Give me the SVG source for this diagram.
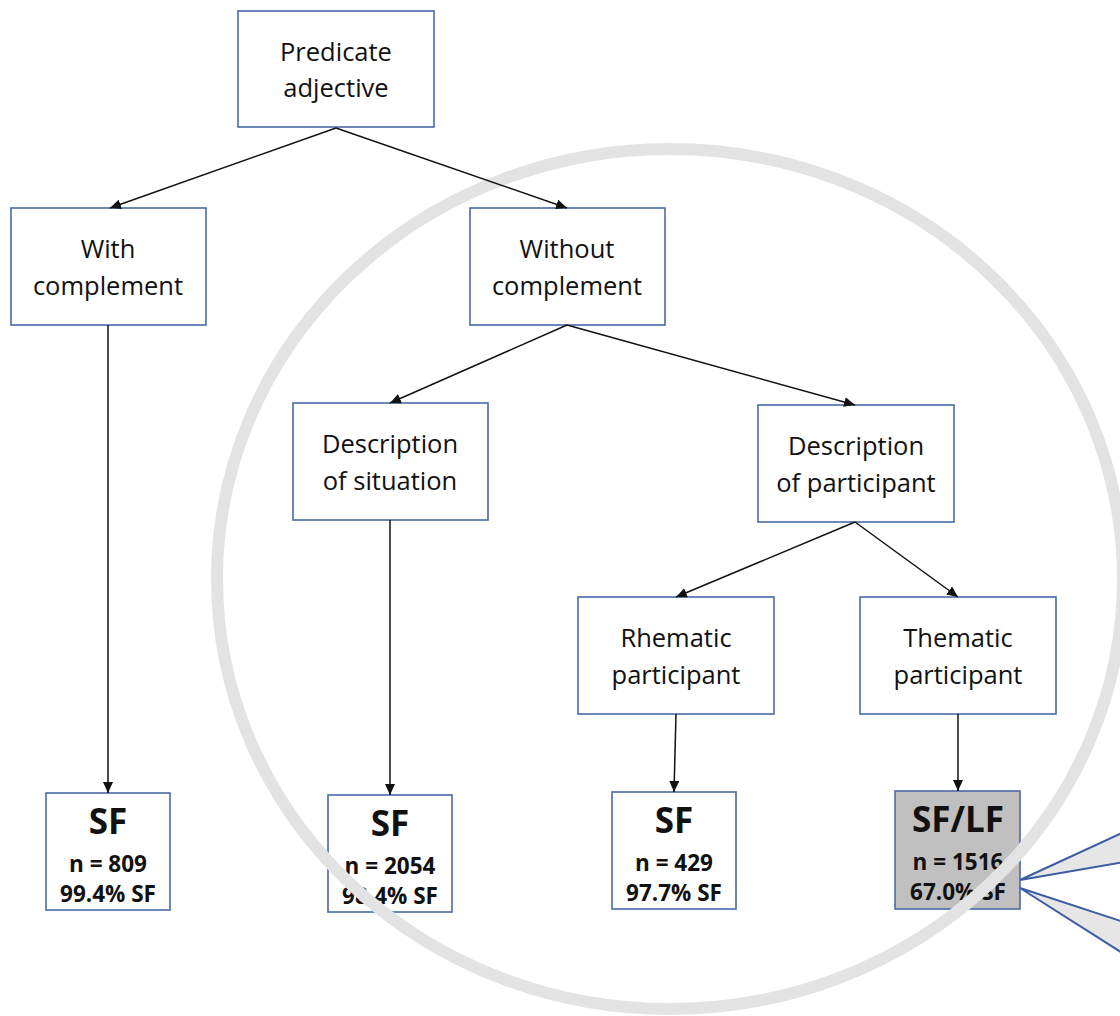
<svg xmlns="http://www.w3.org/2000/svg" width="1120" height="1016" viewBox="0 0 1120 1016">
<style>
.box{fill:#ffffff;stroke:#4a6aa8;stroke-width:1.6}
.grey{fill:#c0c0c0}
.t{font-family:"Open Sans","Liberation Sans",sans-serif;font-size:25.5px;fill:#111;text-anchor:middle}
.big{font-family:"Open Sans","Liberation Sans",sans-serif;font-size:35px;font-weight:bold;fill:#111;text-anchor:middle}
.sm{font-family:"Open Sans","Liberation Sans",sans-serif;font-size:22.5px;font-weight:bold;fill:#111;text-anchor:middle}
.c{stroke:#111;stroke-width:1.5;fill:none;marker-end:url(#ah)}
.ring{fill:none;stroke:#e3e3e3;stroke-width:12}
.call{fill:#e6e6e6;stroke:#3c5da3;stroke-width:2}
</style>
<defs>
<marker id="ah" markerUnits="userSpaceOnUse" markerWidth="12" markerHeight="10" refX="11" refY="5" orient="auto">
<path d="M0,0 L11,5 L0,10 Z" fill="#111"/>
</marker>
</defs>
<rect width="1120" height="1016" fill="#ffffff"/>
<g id="n-predicate"><rect class="box" x="238" y="11" width="196" height="116"/><text class="t" x="336" y="61">Predicate</text><text class="t" x="336" y="97">adjective</text></g>
<g id="n-with"><rect class="box" x="11" y="208" width="195" height="117"/><text class="t" x="108" y="258">With</text><text class="t" x="108" y="295">complement</text></g>
<g id="n-without"><rect class="box" x="470" y="208" width="195" height="117"/><text class="t" x="567" y="258">Without</text><text class="t" x="567" y="295">complement</text></g>
<g id="n-situation"><rect class="box" x="293" y="403" width="195" height="117"/><text class="t" x="390" y="453">Description</text><text class="t" x="390" y="490">of situation</text></g>
<g id="n-participant"><rect class="box" x="758" y="405" width="196" height="117"/><text class="t" x="856" y="455">Description</text><text class="t" x="856" y="492">of participant</text></g>
<g id="n-rhematic"><rect class="box" x="578" y="597" width="196" height="117"/><text class="t" x="676" y="647">Rhematic</text><text class="t" x="676" y="684">participant</text></g>
<g id="n-thematic"><rect class="box" x="860" y="597" width="196" height="117"/><text class="t" x="958" y="647">Thematic</text><text class="t" x="958" y="684">participant</text></g>
<g id="r-809"><rect class="box" x="46" y="793" width="124" height="117"/><text class="big" x="108" y="834">SF</text><text class="sm" x="108" y="872">n = 809</text><text class="sm" x="108" y="902">99.4% SF</text></g>
<g id="r-2054"><rect class="box" x="328" y="795" width="124" height="117"/><text class="big" x="390" y="836">SF</text><text class="sm" x="390" y="874">n = 2054</text><text class="sm" x="390" y="904">98.4% SF</text></g>
<g id="r-429"><rect class="box" x="612" y="792" width="124" height="117"/><text class="big" x="674" y="833">SF</text><text class="sm" x="674" y="871">n = 429</text><text class="sm" x="674" y="901">97.7% SF</text></g>
<g id="r-1516"><rect class="box grey" x="895" y="791" width="125" height="118"/><text class="big" x="958" y="832">SF/LF</text><text class="sm" x="958" y="870">n = 1516</text><text class="sm" x="958" y="900">67.0% SF</text></g>
<ellipse class="ring" cx="670" cy="579" rx="453" ry="430"/>
<g id="connectors">
<line class="c" x1="336" y1="128" x2="110" y2="208"/>
<line class="c" x1="336" y1="128" x2="567" y2="208"/>
<line class="c" x1="567" y1="325" x2="390" y2="403"/>
<line class="c" x1="567" y1="325" x2="855" y2="405"/>
<line class="c" x1="855" y1="522" x2="676" y2="597"/>
<line class="c" x1="855" y1="522" x2="958" y2="597"/>
<line class="c" x1="108" y1="325" x2="108" y2="793"/>
<line class="c" x1="390" y1="520" x2="390" y2="795"/>
<line class="c" x1="676" y1="714" x2="674" y2="792"/>
<line class="c" x1="958" y1="714" x2="958" y2="791"/>
</g>
<g id="callouts">
<path class="call" d="M1124,832 L1020,880 L1124,862 Z"/>
<path class="call" d="M1124,922 L1020,888 L1124,954 Z"/>
</g>
</svg>
